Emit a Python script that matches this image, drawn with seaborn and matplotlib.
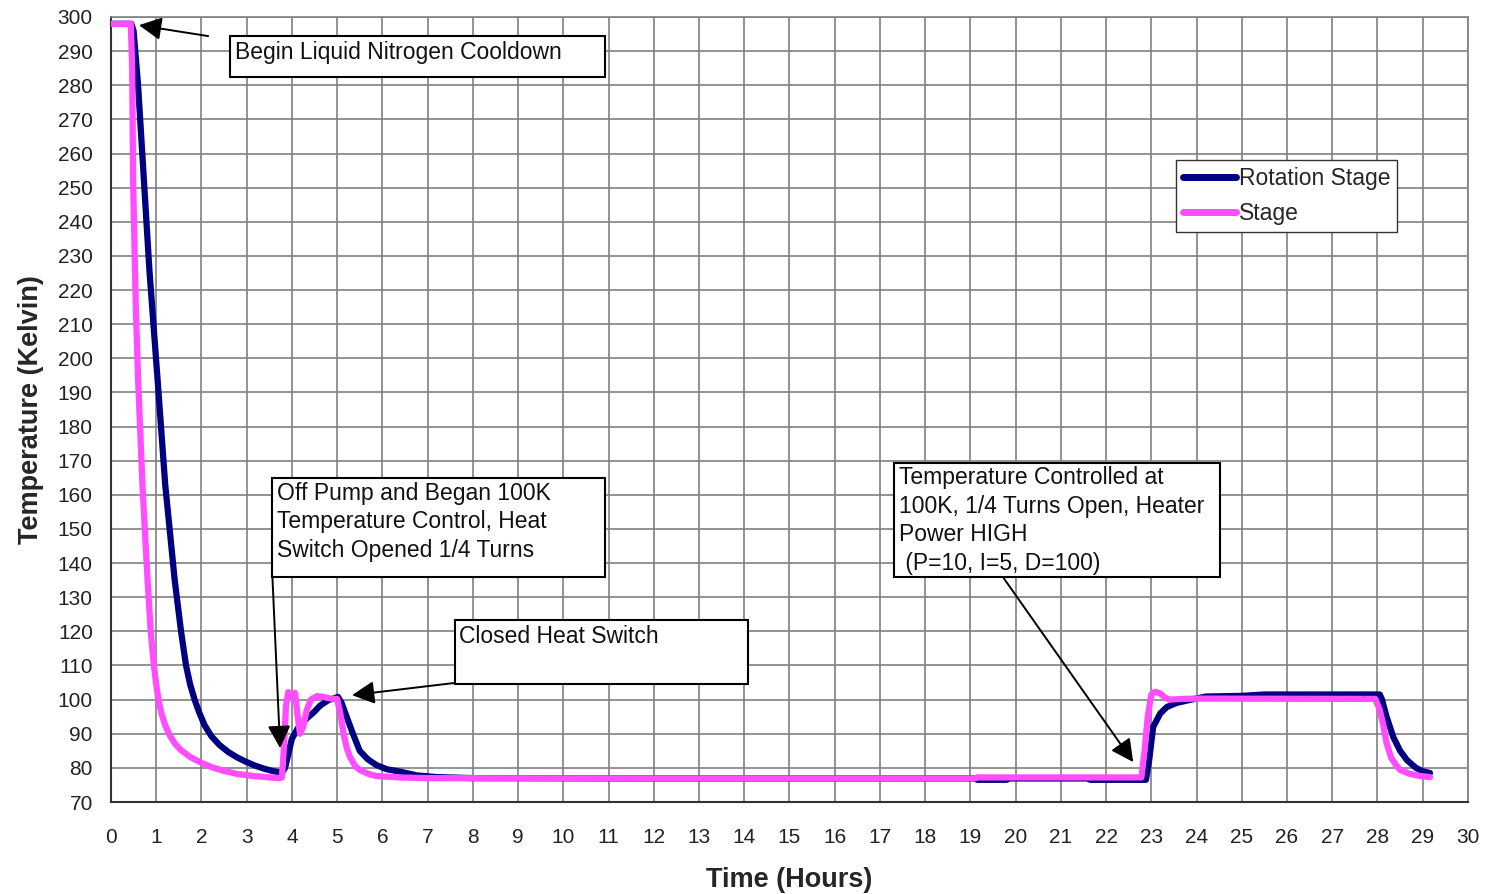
import pandas as pd
import matplotlib
matplotlib.use("Agg")
import matplotlib.pyplot as plt
from matplotlib.patches import Rectangle
import seaborn as sns

# Rotation Stage (navy) - time in hours, temperature in Kelvin
rot_time = [0, 0.45, 0.5, 0.6, 0.73, 0.85, 1.03, 1.2, 1.41, 1.55, 1.66, 1.75, 1.85, 1.95, 2.07,
            2.22, 2.4, 2.6, 2.8, 3.0, 3.2, 3.4, 3.6, 3.78, 3.85, 3.92, 4.0, 4.15, 4.33, 4.5,
            4.62, 4.8, 5.02, 5.1, 5.21, 5.35, 5.5, 5.68, 5.87, 6.1, 6.39, 6.76, 7.2, 8.0, 12.0,
            19.1, 19.15, 19.8, 19.85, 21.6, 21.65, 22.88, 22.95, 23.04, 23.2, 23.34, 23.55,
            23.78, 24.2, 25.0, 25.5, 26.0, 27.0, 28.05, 28.1, 28.2, 28.35, 28.5, 28.65, 28.85,
            29.0, 29.16]
rot_temp = [298, 298, 296, 280, 252, 226, 194, 163, 135, 120, 110, 104.5, 100, 96.3, 92.5,
            89.3, 86.7, 84.6, 83.0, 81.7, 80.6, 79.7, 79.0, 78.6, 80, 84, 88.5, 92, 94.5, 96.5,
            98.2, 99.8, 100.8, 99, 95, 90, 85, 82.5, 80.8, 79.6, 78.9, 77.8, 77.3, 77.0, 76.9,
            76.9, 76.5, 76.5, 76.9, 76.9, 76.5, 76.5, 82, 92, 96, 97.8, 99,
            99.7, 100.9, 101.1, 101.5, 101.5, 101.5, 101.5, 100, 95, 89, 85, 82.3, 80,
            79, 78.5]

# Stage (pink)
stage_time = [0, 0.44, 0.47, 0.49, 0.55, 0.6, 0.7, 0.81, 0.88, 0.95, 1.0, 1.05, 1.12, 1.2,
              1.3, 1.42, 1.55, 1.75, 2.0, 2.25, 2.5, 2.8, 3.17, 3.5, 3.72, 3.78, 3.82, 3.87,
              3.92, 3.97, 4.02, 4.07, 4.12, 4.18, 4.25, 4.33, 4.42, 4.55, 4.7, 4.85, 5.0, 5.07,
              5.14, 5.21, 5.28, 5.4, 5.5, 5.7, 5.87, 6.39, 7.0, 12.0, 19.1, 19.15, 22.78, 22.85,
              22.92, 23.0, 23.08, 23.2, 23.3, 23.41, 23.7, 24.0, 27.95, 28.05, 28.12, 28.2,
              28.3, 28.4, 28.5, 28.7, 28.9, 29.16]
stage_temp = [298, 298, 285, 252, 215, 194, 162, 135, 120, 110, 104.5, 100, 95.8, 92.5,
              89.5, 87.0, 85.2, 83.2, 81.5, 80.1, 79.1, 78.2, 77.6, 77.2, 77.0, 77.2, 85, 98,
              102.2, 101, 100.5, 102, 96, 90, 92, 97, 100, 101, 100.8, 100.3, 100.2, 96,
              90.2, 86, 83.3, 80.5, 79.4, 78.2, 77.6, 77.2, 77.0, 76.9, 76.9, 77.2, 77.2, 85,
              95, 101.5, 102.3, 101.8, 100.6, 100, 100.2, 100.3, 100.2, 97, 93, 87.3,
              83, 81, 79.4, 78.3, 77.7, 77.3]

series_names = ["Rotation Stage", "Stage"]
series_colors = ["#000080", "#FF4DFF"]

x_ticks = list(range(0, 31))
y_ticks = list(range(70, 301, 10))

# annotation boxes: text, box (x0, x1, y0, y1), text anchor, arrow tail, arrow tip
notes = [
    ("Begin Liquid Nitrogen Cooldown", (2.63, 10.92, 282.4, 294.4), (2.74, 289.5, "center"),
     (2.15, 294.4), (0.62, 297.6)),
    ("Off Pump and Began 100K\nTemperature Control, Heat\nSwitch Opened 1/4 Turns",
     (3.56, 10.92, 135.9, 164.9), (3.67, 163.8, "top"), (3.57, 135.9), (3.74, 85.8)),
    ("Closed Heat Switch", (7.61, 14.08, 104.6, 123.3), (7.69, 122.0, "top"),
     (7.61, 104.9), (5.33, 101.3)),
    ("Temperature Controlled at\n100K, 1/4 Turns Open, Heater\nPower HIGH\n (P=10, I=5, D=100)",
     (17.31, 24.52, 135.9, 169.3), (17.42, 168.3, "top"), (19.72, 135.9), (22.6, 81.7)),
]

rot_df = pd.DataFrame({"time": rot_time, "temp": rot_temp})
stage_df = pd.DataFrame({"time": stage_time, "temp": stage_temp})

sns.set_style("white")
plt.rcParams["font.family"] = ["Liberation Sans", "DejaVu Sans"]

fig, ax = plt.subplots(figsize=(14.87, 8.94), dpi=100)
fig.subplots_adjust(left=0.0746, right=0.9872, top=0.981, bottom=0.1029)

for df, name, col in zip([rot_df, stage_df], series_names, series_colors):
    sns.lineplot(data=df, x="time", y="temp", ax=ax, color=col, lw=4.5,
                 label=name, sort=False, estimator=None, zorder=3)

ax.set_xlim(0, 30)
ax.set_ylim(70, 300)
ax.set_xticks(x_ticks)
ax.set_yticks(y_ticks)
ax.set_xticks([t + 0.5 for t in x_ticks[:-1]], minor=True)
ax.grid(True, which="major", color="#808080", lw=1.2)
ax.set_axisbelow(True)
ax.tick_params(axis="both", which="major", labelsize=15, colors="#222222",
               direction="out", length=7, width=1.2, pad=6)
ax.tick_params(axis="x", which="minor", direction="inout", length=7, width=1.0,
               color="#222222")
ax.tick_params(axis="x", which="major", direction="inout", length=14, pad=12)
for side in ["top", "right"]:
    ax.spines[side].set_color("#808080")
    ax.spines[side].set_linewidth(1.2)
for side in ["left", "bottom"]:
    ax.spines[side].set_color("#333333")
    ax.spines[side].set_linewidth(1.5)

ax.set_xlabel("Time (Hours)", fontsize=19.5, fontweight="bold", labelpad=14)
ax.set_ylabel("Temperature (Kelvin)", fontsize=19.5, fontweight="bold", labelpad=10)

for txt, box, anchor, tail, tip in notes:
    x0, x1, y0, y1 = box
    ax.add_patch(Rectangle((x0, y0), x1 - x0, y1 - y0, facecolor="white",
                           edgecolor="black", lw=1.5, zorder=4))
    ax.text(anchor[0], anchor[1], txt, fontsize=16.5, ha="left", va=anchor[2],
            color="#111111", zorder=5, linespacing=1.3)
    ax.annotate("", xy=tip, xytext=tail, zorder=6,
                arrowprops=dict(arrowstyle="-|>,head_length=0.55,head_width=0.28",
                                mutation_scale=25, color="black", lw=1.4,
                                shrinkA=0, shrinkB=0))

leg = ax.legend(loc="upper right", bbox_to_anchor=(0.948, 0.818), borderaxespad=0,
                fontsize=16.5, frameon=True, fancybox=False, handlelength=2.3,
                handletextpad=0.15, borderpad=0.3, labelspacing=0.55)
leg.get_frame().set_edgecolor("#333333")
leg.get_frame().set_linewidth(1.0)
leg.get_frame().set_alpha(1)
for line in leg.get_lines():
    line.set_linewidth(5)

fig.savefig("out.png", dpi=100)
